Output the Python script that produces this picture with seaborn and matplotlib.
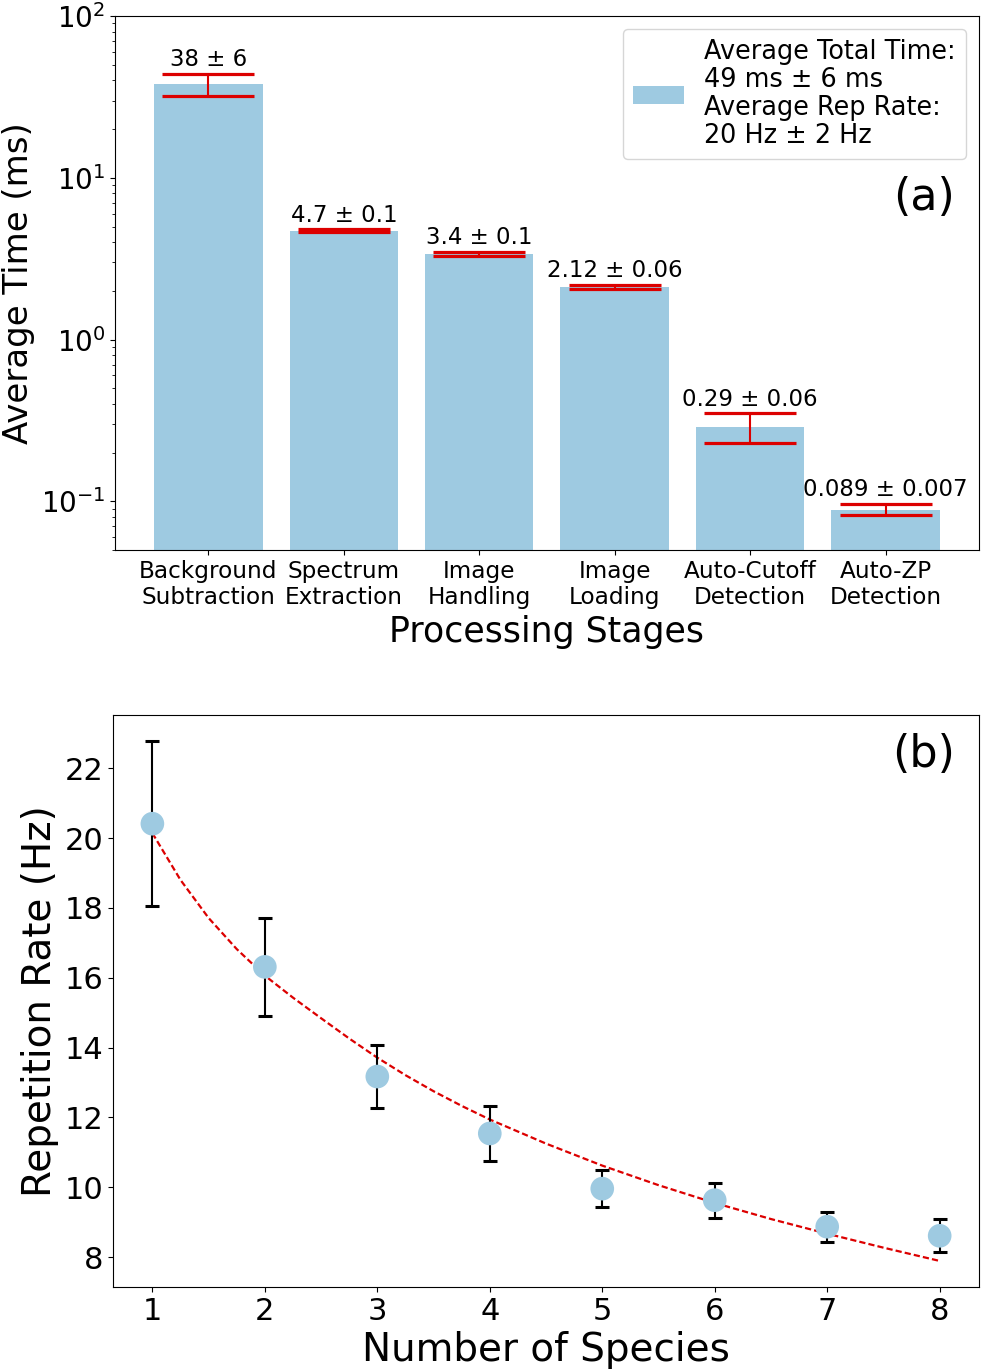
import numpy as np
import pandas as pd
import matplotlib
matplotlib.use("Agg")
import matplotlib.pyplot as plt
import seaborn as sns
from matplotlib.patches import Patch

# processing stage timings (panel a)
stages = ["Background\nSubtraction", "Spectrum\nExtraction", "Image\nHandling",
          "Image\nLoading", "Auto-Cutoff\nDetection", "Auto-ZP\nDetection"]
times = [38, 4.7, 3.4, 2.12, 0.29, 0.089]
time_err = [6, 0.1, 0.1, 0.06, 0.06, 0.007]
time_labels = ["38 ± 6", "4.7 ± 0.1", "3.4 ± 0.1", "2.12 ± 0.06", "0.29 ± 0.06", "0.089 ± 0.007"]
legend_text = "Average Total Time:\n49 ms ± 6 ms\nAverage Rep Rate:\n20 Hz ± 2 Hz"

# repetition rate vs number of species (panel b)
species = [1, 2, 3, 4, 5, 6, 7, 8]
rep_rate = [20.41, 16.31, 13.17, 11.54, 9.96, 9.63, 8.87, 8.61]
rate_err = [2.37, 1.41, 0.90, 0.78, 0.52, 0.50, 0.43, 0.47]

# fitted curve
fit_x = [1, 1.25, 1.5, 1.75, 2, 2.25, 2.5, 2.75, 3, 3.25, 3.5, 3.75, 4,
         4.5, 5, 5.5, 6, 6.5, 7, 7.5, 8]
fit_y = [20.14, 18.8, 17.71, 16.82, 16.06, 15.43, 14.84, 14.26, 13.71, 13.21,
         12.75, 12.33, 11.94, 11.25, 10.62, 10.06, 9.55, 9.09, 8.67, 8.27, 7.89]

bar_color = "#9ecae1"
err_red = "#dc0000"

fig = plt.figure(figsize=(9.81, 13.72), dpi=100)
ax1 = fig.add_axes([0.1172, 0.5991, 0.8807, 0.3892])
ax2 = fig.add_axes([0.1152, 0.0620, 0.8828, 0.4169])

# ---- panel (a)
df_a = pd.DataFrame({"stage": stages, "time": times})
sns.barplot(data=df_a, x="stage", y="time", color=bar_color, saturation=1,
            width=0.8, ax=ax1, errorbar=None)
ax1.set_yscale("log")
pos = np.arange(len(stages))
ax1.errorbar(pos, times, yerr=time_err, fmt="none", ecolor=err_red,
             elinewidth=1.5, capsize=33, capthick=2.3, zorder=3)
for i in range(len(stages)):
    ax1.annotate(time_labels[i], (pos[i], times[i] + time_err[i]),
                 xytext=(0, 2), textcoords="offset points",
                 ha="center", va="bottom", fontsize=16.5)
ax1.set_ylim(0.05, 100)
ax1.set_xlim(-0.69, 5.69)
ax1.set_xlabel("Processing Stages", fontsize=25)
ax1.set_ylabel("Average Time (ms)", fontsize=24.5)
ax1.tick_params(axis="x", labelsize=16.7)
ax1.tick_params(axis="y", labelsize=20)
leg = ax1.legend(handles=[Patch(facecolor=bar_color)], labels=[legend_text],
                 loc="upper right", fontsize=18.4)
leg.get_texts()[0].set_linespacing(1.1)
ax1.text(0.972, 0.66, "(a)", transform=ax1.transAxes, ha="right", va="center",
         fontsize=32)

# ---- panel (b)
ax2.errorbar(species, rep_rate, yerr=rate_err, fmt="none", ecolor="black",
             elinewidth=1.5, capsize=5, capthick=2.2, zorder=2)
sns.lineplot(x=fit_x, y=fit_y, color=err_red, lw=1.6,
             linestyle=(0, (2.8, 1.4)), ax=ax2, zorder=1)
sns.scatterplot(x=species, y=rep_rate, s=290, color=bar_color,
                edgecolor="none", ax=ax2, zorder=3)
ax2.set_xticks(species)
ax2.set_yticks([8, 10, 12, 14, 16, 18, 20, 22])
ax2.set_xlabel("Number of Species", fontsize=28)
ax2.set_ylabel("Repetition Rate (Hz)", fontsize=28)
ax2.tick_params(labelsize=22)
ax2.text(0.972, 0.93, "(b)", transform=ax2.transAxes, ha="right", va="center",
         fontsize=32)

fig.savefig("out.png", dpi=100)
